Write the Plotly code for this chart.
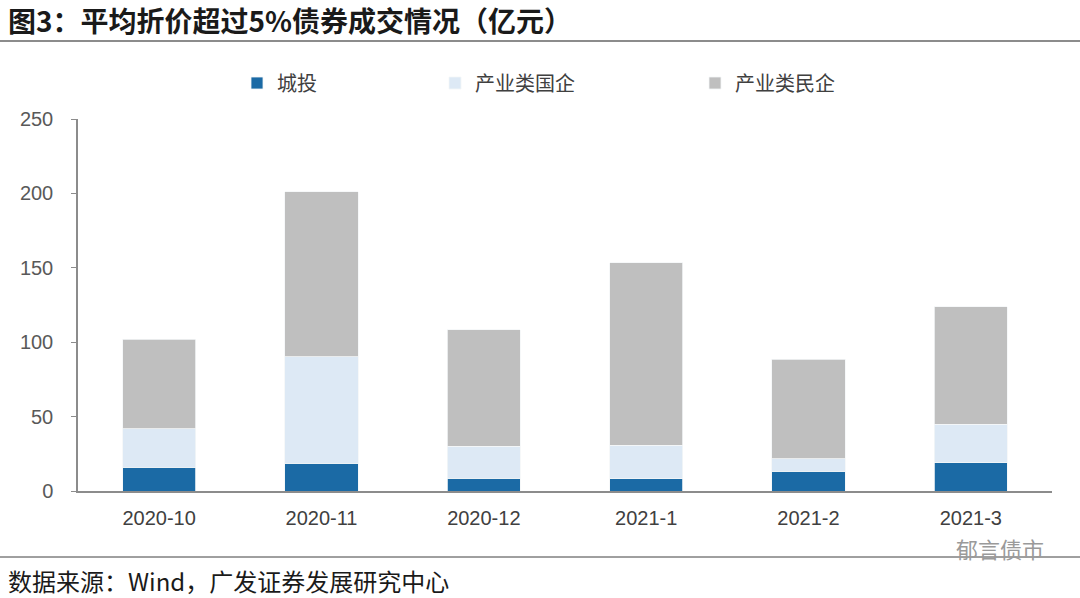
import plotly.graph_objects as go

categories = ["2020-10", "2020-11", "2020-12", "2021-1", "2021-2", "2021-3"]
chengtou = [16.0, 18.5, 8.7, 8.1, 13.4, 19.0]
chanye_guoqi = [26.0, 71.7, 21.3, 22.8, 8.3, 25.7]
chanye_minqi = [60.0, 110.8, 78.5, 122.5, 66.7, 79.1]
series_names = ["城投", "产业类国企", "产业类民企"]
y_ticks = [0, 50, 100, 150, 200, 250]

colors = ["#1B6AA5", "#DDE9F5", "#BFBFBF"]
W, H = 1080, 598
L, R, T, B = 78, 28, 119, 107
pw, ph = W - L - R, H - T - B

def px_x(x):
    return (x - L) / pw

def px_y(y):
    return (H - B - y) / ph

cjk = "Noto Sans CJK SC"
fig = go.Figure()
legend_keys = ["legend", "legend2", "legend3"]
for vals, name, c, lk in zip([chengtou, chanye_guoqi, chanye_minqi], series_names, colors, legend_keys):
    fig.add_trace(go.Bar(x=categories, y=vals, name=name,
                         marker=dict(color=c, line=dict(color="#F4F6F8", width=0.8)),
                         legend=lk))

leg_common = dict(orientation="h", yanchor="middle", xanchor="left", bgcolor="rgba(0,0,0,0)",
                  font=dict(family=cjk, size=20, color="#404040"), itemwidth=30)
legend_x = [237, 435, 695]
fig.update_layout(
    width=W, height=H,
    margin=dict(l=L, r=R, t=T, b=B, autoexpand=False),
    paper_bgcolor="white", plot_bgcolor="white",
    barmode="stack", bargap=0.55,
    showlegend=True,
    legend=dict(x=px_x(legend_x[0]), y=px_y(83), **leg_common),
    legend2=dict(x=px_x(legend_x[1]), y=px_y(83), **leg_common),
    legend3=dict(x=px_x(legend_x[2]), y=px_y(83), **leg_common),
    xaxis=dict(type="category", showline=True, linecolor="#8C8C8C", linewidth=1.5, ticks="", showgrid=False,
               tickfont=dict(family="Liberation Sans", size=20, color="#404040"), ticklabelstandoff=8),
    yaxis=dict(range=[0, 250], tickvals=y_ticks, showline=True, linecolor="#8C8C8C", linewidth=1.5,
               ticks="outside", ticklen=5, tickcolor="#8C8C8C", showgrid=False, zeroline=False,
               tickfont=dict(family="Liberation Sans", size=20, color="#595959"), ticklabelstandoff=14),
)

shapes = [
    dict(type="line", xref="paper", yref="paper", x0=px_x(0), x1=px_x(W), y0=px_y(41), y1=px_y(41),
         line=dict(color="#1A1A1A", width=1.2)),
    dict(type="line", xref="paper", yref="paper", x0=px_x(0), x1=px_x(W), y0=px_y(557), y1=px_y(557),
         line=dict(color="#404040", width=1)),
]
fig.update_layout(shapes=shapes)

fig.add_annotation(xref="paper", yref="paper", x=px_x(6), y=px_y(20), xanchor="left", yanchor="middle",
                   text="<b>图3：平均折价超过5%债券成交情况（亿元）</b>", showarrow=False,
                   font=dict(family=cjk, size=28, color="#1A1A1A"))
fig.add_annotation(xref="paper", yref="paper", x=px_x(6), y=px_y(580), xanchor="left", yanchor="middle",
                   text="数据来源：Wind，广发证券发展研究中心", showarrow=False,
                   font=dict(family=cjk, size=24, color="#1A1A1A"))
fig.add_annotation(xref="paper", yref="paper", x=px_x(1046), y=px_y(548), xanchor="right", yanchor="middle",
                   text="郁言债市", showarrow=False,
                   font=dict(family=cjk, size=22, color="#9A9A9A"))

fig.write_html("out.html", config={"displayModeBar": False},
               post_script="document.body.style.margin='0';")
